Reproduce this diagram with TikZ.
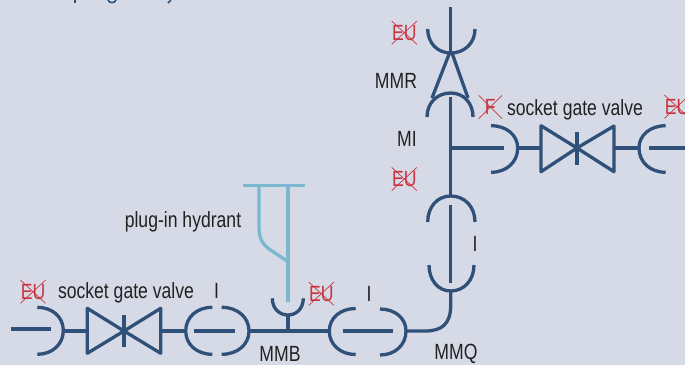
\documentclass[tikz,border=0pt]{standalone}
\usepackage{fontspec}
\setmainfont[FakeStretch=0.8]{Liberation Sans}
\usetikzlibrary{shapes.misc}
\definecolor{bgc}{HTML}{D6DAE6}
\definecolor{pipe}{HTML}{2F5179}
\definecolor{hyd}{HTML}{7BB8D0}
\definecolor{redc}{HTML}{C9343F}
\definecolor{txt}{HTML}{222222}
% vertical opening socket: xl xm xr yopen yapex
\newcommand{\vsock}[5]{\draw[pipeline] (#1,#4) .. controls (#1,{#4+.58*(#5-#4)}) and ({#2-.58*(#2-#1)},#5) .. (#2,#5) .. controls ({#2+.58*(#3-#2)},#5) and (#3,{#4+.58*(#5-#4)}) .. (#3,#4);}
% horizontal opening socket: yt ym yb xopen xapex
\newcommand{\hsock}[5]{\draw[pipeline] (#4,#1) .. controls ({#4+.58*(#5-#4)},#1) and (#5,{#2-.58*(#2-#1)}) .. (#5,#2) .. controls (#5,{#2+.58*(#3-#2)}) and ({#4+.58*(#5-#4)},#3) .. (#4,#3);}
\tikzset{
  pipeline/.style={draw=pipe,line width=3.3pt,line join=round},
  hydline/.style={draw=hyd,line width=3.3pt,line join=round},
  lbl/.style={text=txt,inner sep=0pt,font=\fontsize{22}{24}\selectfont},
  struck/.style={cross out,draw=redc,line width=.7pt,text=redc,inner sep=0pt,minimum size=22.5pt,font=\fontsize{22}{24}\selectfont},
}
\begin{document}
\begin{tikzpicture}[x=1pt,y=-1pt]
\useasboundingbox[fill=bgc] (0,0) rectangle (685,365);
% junctions
\coordinate (topend) at (450.7,7);
\coordinate (topcup) at (450.7,52);
\coordinate (midtop) at (450.7,97);
\coordinate (tee) at (450.7,148);
\coordinate (vsocktop) at (450.7,195);
\coordinate (vsockbot) at (450.7,292);
\coordinate (bendin) at (450.7,305);
\coordinate (bendout) at (425,331);
\coordinate (hsockr) at (406,331);
\coordinate (hsockl) at (329,331);
\coordinate (stem) at (288,331);
\coordinate (stemtop) at (288,314);
\coordinate (wsockr) at (249,331);
\coordinate (wsockl) at (185.5,331);
\coordinate (lvalver) at (160.7,331);
\coordinate (lvalvec) at (124,331);
\coordinate (lvalvel) at (87.3,331);
\coordinate (lsock) at (63.3,331);
\coordinate (rsockapex) at (517.7,148);
\coordinate (rvalvel) at (541,148);
\coordinate (rvalvec) at (577,148);
\coordinate (rvalver) at (614,148);
\coordinate (esockapex) at (639,148);
% main pipe
\draw[pipeline] (topend) -- (topcup);
\vsock{427.7}{450.7}{475}{29}{53}
\draw[pipeline] (449.5,53) -- (432,98);
\draw[pipeline] (452,53) -- (468,98);
\vsock{427}{450.7}{473}{117}{93}
\draw[pipeline] (midtop) -- (vsocktop);
\vsock{427.7}{450.7}{475}{222}{196}
\draw[pipeline] (450.7,205) -- (450.7,282.7);
\vsock{429}{450.7}{474}{265}{291}
\draw[pipeline] (vsockbot) -- (bendin) .. controls (450.7,324) and (442,331) .. (bendout) -- (hsockr);
\hsock{309}{331}{355}{380}{406}
\hsock{308.5}{331}{354.5}{355.7}{329.3}
\draw[pipeline] (343.3,331) -- (392.7,331);
\draw[pipeline] (hsockl) -- (wsockr);
\draw[pipeline] (stem) -- (stemtop);
\vsock{272.3}{288}{303.3}{298.3}{315}
% hydrant
\draw[hydline] (243.3,185.7) -- (305,185.7);
\draw[hydline] (288,185.7) -- (288,301.7);
\draw[hydline] (259,185.7) -- (259,228) .. controls (259,240) and (264,246) .. (272,251) -- (287,261);
% left valve
\hsock{307.3}{331}{354.3}{221.7}{249}
\hsock{307.3}{331}{354.3}{212.3}{185.7}
\draw[pipeline] (194.3,331) -- (235,331);
\draw[pipeline] (lvalver) -- (wsockl);
\draw[pipeline] (lvalvec) -- (87.3,308.3) -- (87.3,353.3) -- cycle;
\draw[pipeline] (lvalvec) -- (160.7,308.3) -- (160.7,353.3) -- cycle;
\draw[pipeline] (124,315) -- (124,347.3);
\draw[pipeline] (lsock) -- (lvalvel);
\hsock{307.3}{330.5}{354.3}{37.3}{63.3}
\draw[pipeline] (10.7,329) -- (50.7,329);
% right valve
\draw[pipeline] (tee) -- (504,148);
\hsock{125.7}{148}{172.3}{491}{517.7}
\draw[pipeline] (rsockapex) -- (rvalvel);
\draw[pipeline] (rvalvec) -- (541,125.7) -- (541,171.7) -- cycle;
\draw[pipeline] (rvalvec) -- (614,126) -- (614,171.7) -- cycle;
\draw[pipeline] (577,132.3) -- (577,165);
\draw[pipeline] (rvalver) -- (esockapex);
\hsock{125.7}{148}{172.3}{665.7}{639}
\draw[pipeline] (649.3,148) -- (685,148);
% fragments of a cut-off line at the top edge
\draw[pipe,line width=1.6pt] (75,0) -- (75,3);
\draw[pipe,line width=1.6pt] (108,0) .. controls (109,3.5) and (115,3.5) .. (116,0);
\draw[pipe,line width=1.6pt] (171,0) -- (168,3);
% struck-out marks
\node[struck] (eu1) at (404.3,32.7) {EU};
\node[struck] (f1) at (490.3,107) {F};
\node[struck] (eu2) at (404.3,179) {EU};
\node[struck] (eu3) at (677,106.7) {EU};
\node[struck] (eu4) at (33,291.7) {EU};
\node[struck] (eu5) at (321.3,293.7) {EU};
% labels
\node[lbl] (mmr) at (396,80.5) {MMR};
\node[lbl] (mi) at (407,138.5) {MI};
\node[lbl] (i1) at (216.5,291) {I};
\node[lbl] (i2) at (369,293.5) {I};
\node[lbl] (i3) at (475,244) {I};
\node[lbl] (mmb) at (280,353.5) {MMB};
\node[lbl] (mmq) at (456,353.5) {MMQ};
\node[lbl] (hy) at (183,221.5) {plug-in hydrant};
\node[lbl] (sg1) at (126,292.5) {socket gate valve};
\node[lbl] (sg2) at (575,109.5) {socket gate valve};
\end{tikzpicture}
\end{document}
